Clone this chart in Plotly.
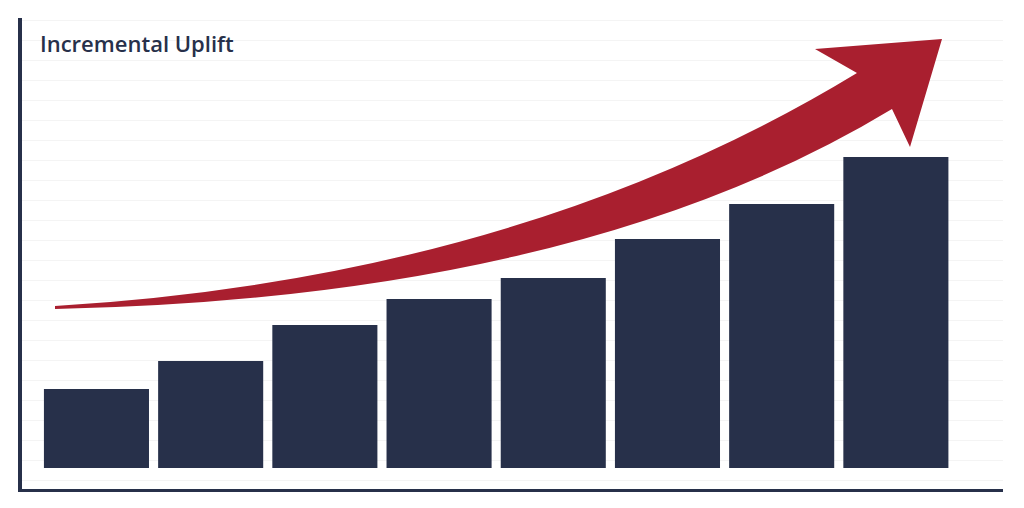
import plotly.graph_objects as go

categories = ["1", "2", "3", "4", "5", "6", "7", "8"]
values = [79, 107, 143, 169, 190, 229, 264, 311]
title_text = "Incremental Uplift"

NAVY = "#27304a"
RED = "#a91f2f"

W, H = 1024, 508
OFF = 8  # page body margin
L, T = 22 - OFF, 18 - OFF
R = W - (1003 - OFF)
B = H - (489 - OFF)

def P(x, y):
    x -= OFF
    y -= OFF
    return (x - L) / (W - L - R), (H - B - y) / (H - T - B)

def pt(x, y):
    a, b = P(x, y)
    return f"{a:.5f},{b:.5f}"

arrow = ("M " + pt(55, 306) + " Q " + pt(520, 278) + " " + pt(857, 73)
         + " L " + pt(815, 49) + " L " + pt(942, 39) + " L " + pt(910, 147)
         + " L " + pt(892, 109) + " Q " + pt(580, 298) + " " + pt(55, 309) + " Z")

fig = go.Figure(go.Bar(x=list(range(len(categories))), y=values, width=0.92,
                       marker=dict(color=NAVY, line=dict(width=0)),
                       hoverinfo="skip"))
fig.update_layout(
    width=W, height=H, margin=dict(l=L, r=R, t=T, b=B),
    paper_bgcolor="white", plot_bgcolor="white", showlegend=False,
    xaxis=dict(range=[-0.652, 7.938], showgrid=False, zeroline=False,
               showticklabels=False, showline=True, linewidth=3, linecolor=NAVY),
    yaxis=dict(range=[-21, 450], tick0=8, dtick=20, showgrid=True,
               gridcolor="#f4f4f4", gridwidth=1, zeroline=False,
               showticklabels=False, showline=True, linewidth=4, linecolor=NAVY),
    shapes=[dict(type="path", path=arrow, xref="paper", yref="paper",
                 fillcolor=RED, line=dict(width=0), layer="above")],
    annotations=[dict(text=title_text, xref="paper", yref="paper",
                      x=P(38, 43)[0], y=P(38, 43)[1], xanchor="left", yanchor="middle",
                      showarrow=False,
                      font=dict(family="Open Sans", size=22, color=NAVY, weight=600))],
)
fig.write_html("out.html")
